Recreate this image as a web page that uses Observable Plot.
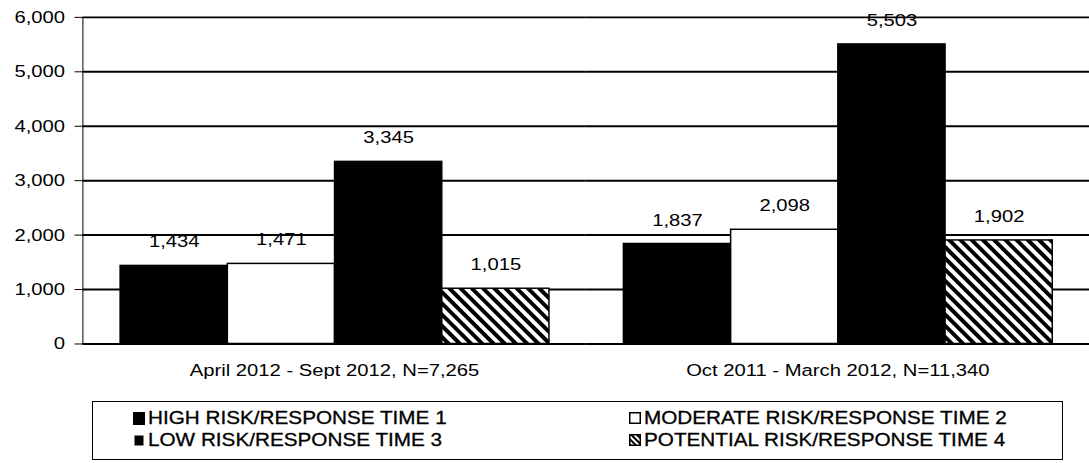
<!DOCTYPE html>
<html><head><meta charset="utf-8">
<script src="https://cdn.jsdelivr.net/npm/d3@7"></script>
<script src="https://cdn.jsdelivr.net/npm/@observablehq/plot@0.6"></script>
<style>
html,body{margin:0;padding:0;background:#fff;overflow:hidden;width:1089px;height:463px;}
#chart{position:absolute;left:0;top:0;}
#legend{position:absolute;left:92px;top:401px;width:969px;height:57px;border:1.5px solid #000;font-family:"Liberation Sans",Arial,sans-serif;font-size:18px;color:#000;}
.item{position:absolute;height:20px;display:flex;align-items:center;white-space:nowrap;}
.item svg{flex:none;margin-right:3px;}
.item span{display:inline-block;transform:scaleX(1.15);transform-origin:left center;-webkit-text-stroke:0.3px #000;}
</style></head>
<body><div id="chart"></div><div id="legend"></div>
<script>
const groups = ["April 2012 - Sept 2012, N=7,265", "Oct 2011 - March 2012, N=11,340"];
const series = ["HIGH RISK/RESPONSE TIME 1", "MODERATE RISK/RESPONSE TIME 2", "LOW RISK/RESPONSE TIME 3", "POTENTIAL RISK/RESPONSE TIME 4"];
const valuesApr2012 = [1434, 1471, 3345, 1015];
const valuesOct2011 = [1837, 2098, 5503, 1902];
const yTicks = [0, 1000, 2000, 3000, 4000, 5000, 6000];
const fills = ["#000", "#fff", "#000", "url(#hatch)"];

const data = [];
groups.forEach((g, gi) => {
  const vals = gi === 0 ? valuesApr2012 : valuesOct2011;
  series.forEach((s, si) => data.push({group: g, series: s, value: vals[si]}));
});

const fmt = d3.format(",");
const plot = Plot.plot({
  width: 1097, height: 398,
  marginLeft: 82, marginRight: 0, marginTop: 17, marginBottom: 52,
  style: {fontFamily: '"Liberation Sans", Arial, sans-serif', fontSize: "17px", color: "#000", background: "#fff"},
  fx: {domain: groups, padding: 0, axis: "bottom", tickSize: 0, tickPadding: 20, label: null},
  x: {domain: series, paddingInner: 0, paddingOuter: 0.333, axis: null},
  y: {domain: [0, 6000], ticks: yTicks, tickFormat: d => fmt(d), tickSize: 8, tickPadding: 10, line: true, label: null},
  color: {domain: series, range: fills},
  marks: [
    Plot.ruleY(yTicks.slice(1), {stroke: "#000", strokeWidth: 2}),
    Plot.barY(data, {fx: "group", x: "series", y: "value", fill: "series", stroke: "#000", strokeWidth: 1.5}),
    Plot.text(data, {fx: "group", x: "series", y: "value", text: d => fmt(d.value), dy: -24, fontSize: 17, fill: "#000"}),
    Plot.ruleY([0], {stroke: "#000", strokeWidth: 2})
  ]
});
const svg = plot.tagName.toLowerCase() === "svg" ? plot : plot.querySelector("svg");
const NS = "http://www.w3.org/2000/svg";
function makeHatch(id) {
  const p = document.createElementNS(NS, "pattern");
  p.setAttribute("id", id);
  p.setAttribute("patternUnits", "userSpaceOnUse");
  p.setAttribute("width", "8");
  p.setAttribute("height", "8");
  p.setAttribute("patternTransform", "rotate(-45)");
  const r1 = document.createElementNS(NS, "rect");
  r1.setAttribute("width", "8"); r1.setAttribute("height", "8"); r1.setAttribute("fill", "#fff");
  const r2 = document.createElementNS(NS, "rect");
  r2.setAttribute("width", "4"); r2.setAttribute("height", "8"); r2.setAttribute("fill", "#000");
  p.appendChild(r1); p.appendChild(r2);
  return p;
}
const defs = document.createElementNS(NS, "defs");
defs.appendChild(makeHatch("hatch"));
svg.insertBefore(defs, svg.firstChild);
document.getElementById("chart").appendChild(plot);

// horizontal stretch of chart text to match the reference's wide lettering
svg.querySelectorAll("text").forEach(t => {
  const len = t.getComputedTextLength();
  if (len > 0) {
    t.setAttribute("textLength", (len * 1.2).toFixed(1));
    t.setAttribute("lengthAdjust", "spacingAndGlyphs");
  }
});

// legend
const swatches = [
  '<rect x="0.5" y="0.5" width="11" height="12" fill="#000" stroke="#000"/>',
  '<rect x="0.75" y="0.75" width="10.5" height="10.5" fill="#fff" stroke="#000" stroke-width="1.5"/>',
  '<rect x="1.5" y="1.5" width="9" height="10" fill="#000"/>',
  '<defs><pattern id="hatchL" patternUnits="userSpaceOnUse" width="4" height="4" patternTransform="rotate(-45)"><rect width="4" height="4" fill="#fff"/><rect width="2" height="4" fill="#000"/></pattern></defs><rect x="0.75" y="0.75" width="10.5" height="10.5" fill="url(#hatchL)" stroke="#000" stroke-width="1.5"/>'
];
const legendPos = [[40, 6.5], [536, 6.5], [40, 28.5], [536, 28.5]];
const legend = document.getElementById("legend");
series.forEach((s, i) => {
  const div = document.createElement("div");
  div.className = "item";
  div.style.left = legendPos[i][0] + "px";
  div.style.top = legendPos[i][1] + "px";
  div.innerHTML = `<svg width="12" height="13">${swatches[i]}</svg><span>${s}</span>`;
  legend.appendChild(div);
});
</script>
</body></html>
